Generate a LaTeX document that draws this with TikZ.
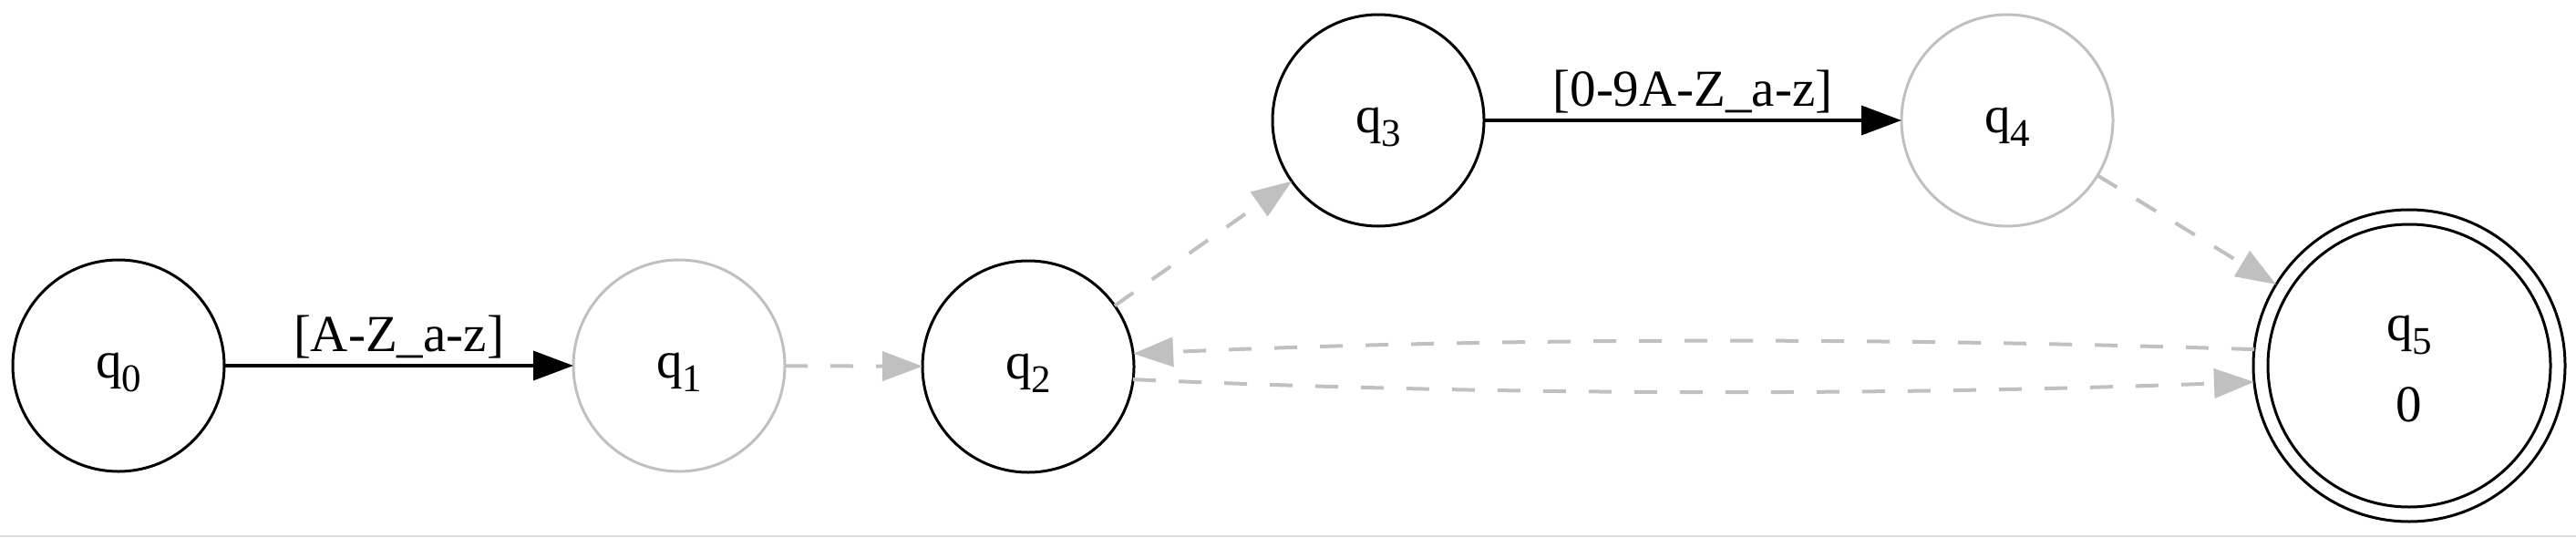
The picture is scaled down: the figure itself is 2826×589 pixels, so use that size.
\documentclass[tikz,border=0pt]{standalone}
\usepackage{fontspec}
\setmainfont{Liberation Serif}
\usetikzlibrary{arrows.meta}
\definecolor{edgegray}{HTML}{C0C0C0}
\definecolor{framegray}{HTML}{DCDCDC}
\newcommand{\qlab}[1]{q\raisebox{-15pt}{\fontsize{43}{43}\selectfont #1}}
\begin{document}
\begin{tikzpicture}[x=1pt,y=-1pt,
  state/.style={circle, draw, line width=3pt, minimum size=232pt, inner sep=0pt, outer sep=0pt,
                font=\fontsize{57}{68}\selectfont, text height=26pt, text depth=0pt},
  faded/.style={draw=edgegray},
  tr/.style={-{Triangle[length=44pt,width=32pt]}},
  solidedge/.style={tr, line width=3.5pt},
  dashedge/.style={tr, line width=4pt, draw=edgegray, dash pattern=on 25pt off 25pt},
  elabel/.style={anchor=base, yshift=16pt, font=\fontsize{57}{68}\selectfont}]
\useasboundingbox (0,0) rectangle (2826,589);
\fill[framegray] (0,587) rectangle (2826,589);

\node[state] (q0) at (130,401) {\qlab{0}};
\node[state,faded] (q1) at (745,401) {\qlab{1}};
\node[state] (q2) at (1128,402) {\qlab{2}};
\node[state] (q3) at (1512,132) {\qlab{3}};
\node[state,faded] (q4) at (2202,132) {\qlab{4}};
\node[state, minimum size=342pt, text height=0pt, text depth=0pt] (q5) at (2643,401)
  {\makebox[0pt]{\raisebox{28pt}{\qlab{5}}}\makebox[0pt]{\raisebox{-61pt}{0}}};
\draw[line width=3pt] (q5.center) circle[radius=155pt];

\draw[solidedge] (q0) -- node[elabel]{[A-Z\_a-z]} (q1);
\draw[solidedge] (q3) -- node[elabel]{[0-9A-Z\_a-z]} (q4);
\draw[dashedge] (q1) -- (q2);
\draw[dashedge] (q2) -- (q3);
\draw[dashedge] (q4) -- (q5);
\draw[dashedge] (q5.174) .. controls (2062,370) and (1651,370) .. (q2.7.5);
\draw[dashedge] (q2.-7.5) .. controls (1653,434) and (2063,434) .. (q5.186.7);
\end{tikzpicture}
\end{document}
